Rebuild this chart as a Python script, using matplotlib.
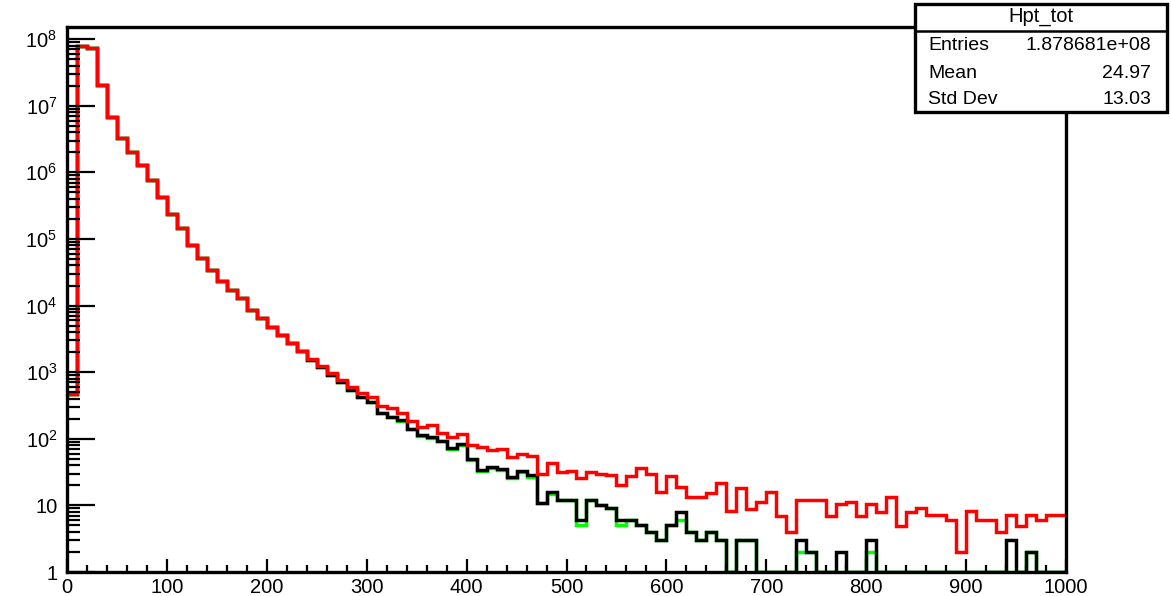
import matplotlib
matplotlib.use('Agg')
import matplotlib.pyplot as plt
import numpy as np
from matplotlib.patches import Rectangle
from matplotlib.lines import Line2D
from matplotlib.ticker import FixedLocator, LogLocator, MultipleLocator, NullFormatter

plt.rcParams['font.family'] = ['Liberation Sans', 'DejaVu Sans']
plt.rcParams['mathtext.fontset'] = 'custom'
plt.rcParams['mathtext.rm'] = 'Liberation Sans'
plt.rcParams['mathtext.it'] = 'Liberation Sans:italic'
plt.rcParams['mathtext.bf'] = 'Liberation Sans:bold'

# bin edges 0..1000 in steps of 10
edges = np.arange(0, 1001, 10)

# Hpt_tot (red)
red_counts = [
    470, 7.9e7, 7.4e7, 2.05e7, 6.7e6, 3.25e6, 2.0e6, 1.29e6, 7.7e5, 4.3e5,
    2.4e5, 1.45e5, 8.1e4, 5.1e4, 3.4e4, 2.3e4, 1.7e4, 1.29e4, 8.6e3, 6.4e3,
    4.8e3, 3.6e3, 2.7e3, 2.1e3, 1.56e3, 1.24e3, 960, 760, 590, 480,
    430, 310, 288, 240, 186, 152, 161, 123, 108, 118,
    81, 74, 68, 70, 54, 59, 55, 30, 44, 32,
    33, 25.5, 32, 29.6, 28.7, 20, 27.5, 37, 30, 16,
    27.5, 18.7, 13.2, 13.5, 15.2, 21.9, 8.3, 18, 8.7, 11.4,
    16, 6.9, 4.0, 12, 12, 12, 6.9, 10.5, 11.4, 6.9,
    10.5, 8, 13.2, 4.9, 8, 9, 7.2, 7.2, 6, 2.0,
    8.3, 6, 6, 4, 7.2, 4.9, 7.2, 6, 7.2, 7.2,
]

# black histogram
black_counts = [
    470, 7.9e7, 7.4e7, 2.05e7, 6.7e6, 3.25e6, 2.0e6, 1.29e6, 7.7e5, 4.3e5,
    2.4e5, 1.45e5, 8.1e4, 5.1e4, 3.4e4, 2.3e4, 1.7e4, 1.29e4, 8.6e3, 6.4e3,
    4.8e3, 3.6e3, 2.7e3, 2.1e3, 1.52e3, 1.2e3, 920, 720, 540, 427,
    360, 248, 215, 190, 140, 112, 105, 94, 72, 84,
    49, 34, 38, 35, 27, 33, 29, 11, 16, 12,
    12, 6, 12, 10, 9, 6, 6, 5, 4, 3,
    5, 8, 4, 3, 4, 3, 0, 3, 3, 0,
    0, 0, 0, 3, 2, 0, 0, 2, 0, 0,
    3, 0, 0, 0, 0, 0, 0, 0, 0, 0,
    0, 0, 0, 0, 3, 0, 2, 0, 0, 0,
]

# green histogram (mostly hidden under the black one)
green_counts = [
    470, 7.9e7, 7.4e7, 2.05e7, 6.7e6, 3.25e6, 2.0e6, 1.29e6, 7.7e5, 4.3e5,
    2.4e5, 1.45e5, 8.1e4, 5.1e4, 3.4e4, 2.3e4, 1.7e4, 1.29e4, 8.6e3, 6.4e3,
    4.8e3, 3.6e3, 2.7e3, 2.1e3, 1.52e3, 1.2e3, 920, 720, 540, 420,
    355, 245, 210, 188, 138, 110, 103, 92, 70, 82,
    48, 33, 37, 34, 26, 32, 27, 11, 15, 12,
    12, 5, 12, 10, 9, 5, 6, 5, 4, 3,
    5, 6, 4, 3, 4, 3, 0, 3, 3, 0,
    0, 0, 0, 2, 2, 0, 0, 1, 0, 0,
    2, 0, 0, 0, 0, 0, 0, 0, 0, 0,
    0, 0, 0, 0, 1, 0, 2, 0, 0, 0,
]

y_ticks = [1, 10, 1e2, 1e3, 1e4, 1e5, 1e6, 1e7, 1e8]
y_labels = ['1', '10', '$10^{2}$', '$10^{3}$', '$10^{4}$', '$10^{5}$',
            '$10^{6}$', '$10^{7}$', '$10^{8}$']

W, H = 1171, 596
fig = plt.figure(figsize=(W / 100, H / 100), dpi=100)
ax = fig.add_axes([67 / W, 1 - 572 / H, (1066 - 67) / W, (572 - 27) / H])

lw = 2.5
ax.stairs(np.clip(green_counts, 1, None), edges, color='#00ff00', lw=lw, baseline=None)
ax.stairs(np.clip(black_counts, 1, None), edges, color='black', lw=lw, baseline=None)
ax.stairs(np.clip(red_counts, 1, None), edges, color='#ff0000', lw=lw, baseline=None)

ax.set_yscale('log')
ax.set_xlim(0, 1000)
ax.set_ylim(1, 1.52e8)

ax.xaxis.set_major_locator(MultipleLocator(100))
ax.xaxis.set_minor_locator(MultipleLocator(20))
ax.yaxis.set_major_locator(FixedLocator(y_ticks))
ax.set_yticklabels(y_labels)
ax.yaxis.set_minor_locator(LogLocator(base=10, subs=np.arange(2, 10), numticks=30))
ax.yaxis.set_minor_formatter(NullFormatter())

ax.tick_params(which='both', direction='in', top=False, right=False, width=1.6,
               labelsize=14.5)
ax.tick_params(axis='x', which='major', length=9.5, pad=4.5)
ax.tick_params(axis='x', which='minor', length=5)
ax.tick_params(axis='y', which='major', length=20, pad=7)
ax.tick_params(axis='y', which='minor', length=9.5)
for s in ax.spines.values():
    s.set_linewidth(2.4)

# stats box
def fx(x):
    return x / W

def fy(y):
    return 1 - y / H

box = Rectangle((fx(915), fy(112)), fx(1167) - fx(915), fy(4) - fy(112),
                transform=fig.transFigure, facecolor='white', edgecolor='black',
                lw=2.4, zorder=10)
fig.add_artist(box)
fig.add_artist(Line2D([fx(915), fx(1167)], [fy(31), fy(31)], transform=fig.transFigure,
                      color='black', lw=1.8, zorder=11))
fig.text(fx(1041), fy(17), 'Hpt_tot', ha='center', va='center', fontsize=14.5, zorder=12)
rows = [('Entries', '1.878681e+08', 45), ('Mean', '24.97', 73), ('Std Dev', '13.03', 99)]
for name, val, yy in rows:
    fig.text(fx(928), fy(yy), name, ha='left', va='center', fontsize=14, zorder=12)
    fig.text(fx(1151), fy(yy), val, ha='right', va='center', fontsize=14, zorder=12)

fig.savefig('out.png', dpi=100)
